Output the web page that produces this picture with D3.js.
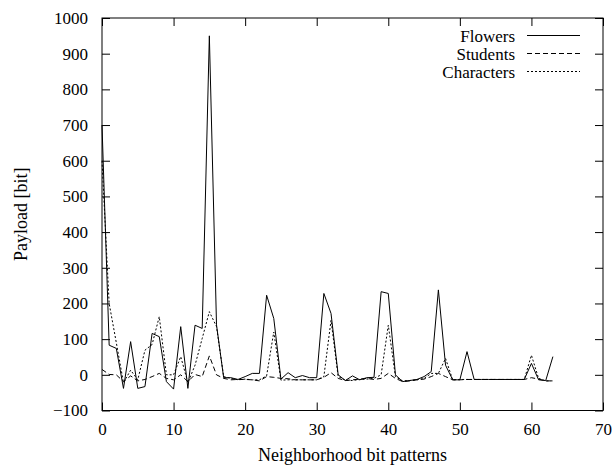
<!DOCTYPE html>
<html>
    <head>
        <meta charset="utf-8">
        <title>Payload</title>
        <script type="text/javascript" src="https://cdn.jsdelivr.net/npm/d3@7"></script>
        <style>
            body { margin: 0; background: #fff; }
            text { font-family: "Liberation Serif", "DejaVu Serif", serif; fill: #000; }
        </style>
    </head>
    <body>
        <script type="text/javascript">
            // values per neighborhood bit pattern (index 0..63)
            var flowers = [700, 83, 74, -38, 93, -38, -33, 116, 107, -19,
                -40, 135, -38, 139, 130, 950, 140, -8, -8, -13,
                -5, 4, 4, 223, 158, -12, 6, -8, -2, -8,
                -8, 228, 172, 0, -16, -3, -14, -8, -7, 233,
                228, 0, -19, -16, -13, -5, 9, 238, 27, -14,
                -14, 65, -13, -13, -13, -13, -13, -13, -13, -13,
                32, -14, -16, 51];
            var students = [15, 1, 0, -19, -3, -17, -13, -5, 4, -10,
                -14, 0, -19, 1, -5, 53, 0, -10, -14, -13,
                -13, -14, -17, -5, -7, -10, -11, -14, -14, -14,
                -14, -7, 6, -10, -16, -14, -12, -10, -13, -10,
                4, -10, -19, -17, -14, -12, -5, 4, -5, -14,
                -14, -13, -13, -13, -13, -13, -13, -13, -13, -13,
                -8, -12, -17, -17];
            var characters = [600, 200, 90, -22, 13, -14, 69, 85, 163, 0,
                0, 51, -22, 27, 102, 177, 135, -5, -10, -14,
                -12, -14, -14, -3, 120, -15, -14, -14, -14, -14,
                -14, -5, 153, -5, -15, -16, -13, -12, -10, 0,
                139, -5, -17, -16, -14, -10, 4, 4, 46, -14,
                -13, -13, -13, -13, -13, -13, -13, -13, -13, -13,
                55, -10, -17, -17];

            var xTicks = [0, 10, 20, 30, 40, 50, 60, 70];
            var yTicks = [-100, 0, 100, 200, 300, 400, 500, 600, 700, 800, 900, 1000];

            var series = [
                {name: 'Flowers', values: flowers, dash: null},
                {name: 'Students', values: students, dash: '5,3'},
                {name: 'Characters', values: characters, dash: '2,2'}
            ];

            var W = 616, H = 469;
            var mLeft = 102, mRight = 603, mTop = 18, mBottom = 410.5;

            var svg = d3.select('body').append('svg')
                .attr('width', W)
                .attr('height', H);

            var x = d3.scaleLinear().domain([0, 70]).range([mLeft, mRight]);
            var y = d3.scaleLinear().domain([-100, 1000]).range([mBottom, mTop]);

            var tick = 8;
            var serif = '"Liberation Serif", "DejaVu Serif", serif';

            // ticks on all four sides, pointing inwards
            svg.append('g').attr('transform', 'translate(0,' + mBottom + ')')
                .call(d3.axisBottom(x).tickValues(xTicks).tickSizeInner(-tick).tickSizeOuter(0)
                    .tickPadding(12).tickFormat(d3.format('d')))
                .call(function(g) {
                    g.select('.domain').remove();
                    g.attr('font-family', serif).attr('font-size', 17);
                });
            svg.append('g').attr('transform', 'translate(0,' + mTop + ')')
                .call(d3.axisTop(x).tickValues(xTicks).tickSizeInner(-tick).tickSizeOuter(0).tickFormat(''))
                .call(function(g) { g.select('.domain').remove(); });
            svg.append('g').attr('transform', 'translate(' + mLeft + ',0)')
                .call(d3.axisLeft(y).tickValues(yTicks).tickSizeInner(-tick).tickSizeOuter(0)
                    .tickPadding(14).tickFormat(d3.format('d')))
                .call(function(g) {
                    g.select('.domain').remove();
                    g.attr('font-family', serif).attr('font-size', 17);
                });
            svg.append('g').attr('transform', 'translate(' + mRight + ',0)')
                .call(d3.axisRight(y).tickValues(yTicks).tickSizeInner(-tick).tickSizeOuter(0).tickFormat(''))
                .call(function(g) { g.select('.domain').remove(); });

            svg.selectAll('.tick line').attr('stroke', '#000');

            svg.append('rect')
                .attr('x', mLeft).attr('y', mTop)
                .attr('width', mRight - mLeft).attr('height', mBottom - mTop)
                .attr('fill', 'none').attr('stroke', '#000').attr('stroke-width', 1);

            var line = d3.line()
                .x(function(d, i) { return x(i); })
                .y(function(d) { return y(d); });

            svg.selectAll('path.series')
                .data(series)
                .enter().append('path')
                .attr('class', 'series')
                .attr('d', function(d) { return line(d.values); })
                .attr('fill', 'none')
                .attr('stroke', '#000')
                .attr('stroke-width', 1)
                .attr('stroke-dasharray', function(d) { return d.dash; });

            // legend
            var lg = svg.selectAll('g.legend')
                .data(series)
                .enter().append('g')
                .attr('class', 'legend')
                .attr('transform', function(d, i) { return 'translate(0,' + (35.5 + 18 * i) + ')'; });
            lg.append('text')
                .attr('x', 515).attr('y', 6)
                .attr('text-anchor', 'end')
                .attr('font-size', 17)
                .text(function(d) { return d.name; });
            lg.append('line')
                .attr('x1', 527).attr('x2', 580)
                .attr('stroke', '#000')
                .attr('stroke-dasharray', function(d) { return d.dash; });

            svg.append('text')
                .attr('x', (mLeft + mRight) / 2).attr('y', 461)
                .attr('text-anchor', 'middle')
                .attr('font-size', 18)
                .text('Neighborhood bit patterns');

            svg.append('text')
                .attr('transform', 'translate(27,' + ((mTop + mBottom) / 2) + ') rotate(-90)')
                .attr('text-anchor', 'middle')
                .attr('font-size', 18)
                .text('Payload [bit]');
        </script>
    </body>
</html>
